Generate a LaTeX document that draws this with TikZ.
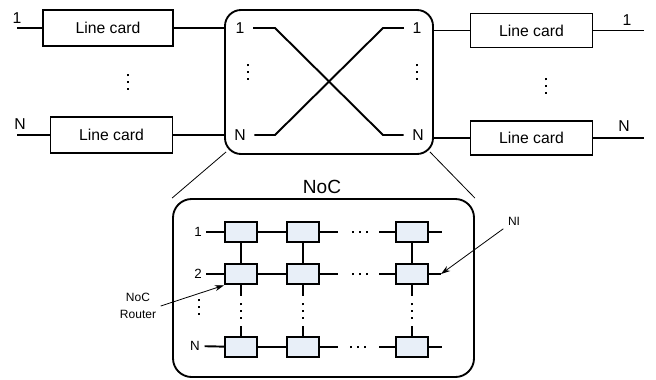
\documentclass[tikz,border=0pt]{standalone}
\usepackage{fontspec}
\setmainfont{Liberation Sans}
\usetikzlibrary{arrows.meta}
\definecolor{routerfill}{RGB}{232,239,248}
\newcommand{\dt}{\rule{1.5pt}{1.5pt}}
\newcommand{\vdts}{\vbox{\offinterlineskip\hbox{\dt}\vskip3.4pt\hbox{\dt}\vskip3.4pt\hbox{\dt}}}
\newcommand{\hdts}{\hbox{\dt\hspace{3.6pt}\dt\hspace{3.6pt}\dt}}
\tikzset{
  linecard/.style={draw, line width=0.9pt, inner sep=0pt, minimum width=92pt, minimum height=27pt},
  router/.style={draw, line width=1.4pt, fill=routerfill, inner sep=0pt, minimum width=24pt, minimum height=15.5pt},
  wire/.style={line width=1.45pt},
  zoomline/.style={line width=0.6pt},
  pointer/.style={line width=0.6pt, -{Stealth[length=7pt,width=4.5pt]}},
  small/.style={font=\fontsize{10}{12}\selectfont},
  dots/.style={inner sep=0pt},
}
\begin{document}
\begin{tikzpicture}[x=0.75pt,y=-0.75pt,font=\fontsize{11.8}{14}\selectfont]
	\useasboundingbox (0,0) rectangle (656,379);
	% switch
	\node[draw, line width=1.4pt, rounded corners=12pt, minimum width=156pt, minimum height=108pt] (sw) at (329,82) {};
	\node (s1l) at (240,28) {1};
	\node (sNl) at (240,135) {N};
	\node (s1r) at (417,28) {1};
	\node (sNr) at (418,135) {N};
	\coordinate (sa1) at (275,28);
	\coordinate (sb1) at (383,28);
	\coordinate (saN) at (275,135);
	\coordinate (sbN) at (383,135);
	\draw[wire, shorten <=3pt, shorten >=3pt] (s1l) -- (sa1) -- (sbN) -- (sNr);
	\draw[wire, shorten <=3pt, shorten >=3pt] (sNl) -- (saN) -- (sb1) -- (s1r);
	\node[dots] (sdl) at (248,72) {\vdts};
	\node[dots] (sdr) at (417,72) {\vdts};
	% input line cards
	\node[linecard, minimum width=97.5pt] (lc1) at (108,28) {Line card};
	\node[linecard] (lcN) at (111.5,135) {Line card};
	\coordinate (in1) at (17,28);
	\coordinate (inN) at (17,135);
	\node (in1l) at (17,18) {1};
	\node (inNl) at (20,124) {N};
	\draw[wire] (in1) -- (lc1);
	\draw[wire] (inN) -- (lcN);
	\draw[wire] (lc1) -- (lc1 -| sw.west);
	\draw[wire] (lcN) -- (lcN -| sw.west);
	\node[dots] (ldots) at (128,82) {\vdts};
	% output line cards
	\node[linecard, minimum width=91pt, minimum height=26pt] (rc1) at (531.5,30.5) {Line card};
	\node[linecard, minimum width=91pt, minimum height=25.5pt] (rcN) at (531.5,138) {Line card};
	\coordinate (out1) at (644,30.5);
	\coordinate (outN) at (644,138);
	\node (out1l) at (627,20) {1};
	\node (outNl) at (624,126) {N};
	\draw[wire] (rc1 -| sw.east) -- (rc1);
	\draw[wire] (rcN -| sw.east) -- (rcN);
	\draw[wire] (rc1) -- (out1);
	\draw[wire] (rcN) -- (outN);
	\node[dots] (rdots) at (546,86) {\vdts};
	% NoC
	\node[draw, line width=1.4pt, rounded corners=14pt, minimum width=225.75pt, minimum height=133.5pt] (noc) at (323.5,288) {};
	\node[font=\fontsize{14.3}{16}\selectfont] (noclbl) at (322,187) {NoC};
	\draw[zoomline] ([shift={(2,-3)}]sw.south west) -- (noc.north west);
	\draw[zoomline] ([shift={(-4,-3)}]sw.south east) -- (noc.north east);
	\node[router] (r11) at (241,232) {};
	\node[router] (r12) at (303,232) {};
	\node[router] (r13) at (412,232) {};
	\node[router] (r21) at (241,274) {};
	\node[router] (r22) at (303,274) {};
	\node[router] (r23) at (412,274) {};
	\node[router] (r31) at (241,347) {};
	\node[router] (r32) at (303,347) {};
	\node[router] (r33) at (412,347) {};
	\node[small] (nl1) at (198,232) {1};
	\node[small] (nl2) at (198,274) {2};
	\node[small] (nl3) at (195,346) {N};
	\coordinate (ni) at (441,274);
	\draw[wire] (nl1) -- (r11) -- (r12);
	\draw[wire] (nl2) -- (r21) -- (r22);
	\draw[wire] (nl3) -- (r31) -- (r32);
	\draw[wire] (r12.east) -- ++(18,0);
	\draw[wire] (r22.east) -- ++(18,0);
	\draw[wire] (r32.east) -- ++(18,0);
	\draw[wire] (r13.west) -- ++(-16,0);
	\draw[wire] (r23.west) -- ++(-16,0);
	\draw[wire] (r33.west) -- ++(-16,0);
	\draw[wire] (r13.east) -- ++(13,0);
	\draw[wire] (r23) -- (ni);
	\draw[wire] (r33.east) -- ++(13,0);
	\node[dots] (hd1) at (360,232) {\hdts};
	\node[dots] (hd2) at (360,274) {\hdts};
	\node[dots] (hd3) at (358,347) {\hdts};
	\draw[wire] (r11) -- (r21);
	\draw[wire] (r12) -- (r22);
	\draw[wire] (r13) -- (r23);
	\draw[wire] (r21.south) -- ++(0,11);
	\draw[wire] (r22.south) -- ++(0,11);
	\draw[wire] (r23.south) -- ++(0,11);
	\draw[wire] (r31.north) -- ++(0,-10);
	\draw[wire] (r32.north) -- ++(0,-10);
	\draw[wire] (r33.north) -- ++(0,-10);
	\node[dots] (vd0) at (199,307) {\vdts};
	\node[dots] (vd1) at (241,311) {\vdts};
	\node[dots] (vd2) at (303,311) {\vdts};
	\node[dots] (vd3) at (412,311) {\vdts};
	% labels
	\node[align=center, font=\fontsize{9}{13}\selectfont] (rtlbl) at (138,306) {NoC\\Router};
	\node[font=\fontsize{9}{11}\selectfont] (nilbl) at (514,221) {NI};
	\draw[pointer] (rtlbl.east) -- (r21.south west);
	\draw[pointer] (nilbl) -- (ni);
\end{tikzpicture}
\end{document}
